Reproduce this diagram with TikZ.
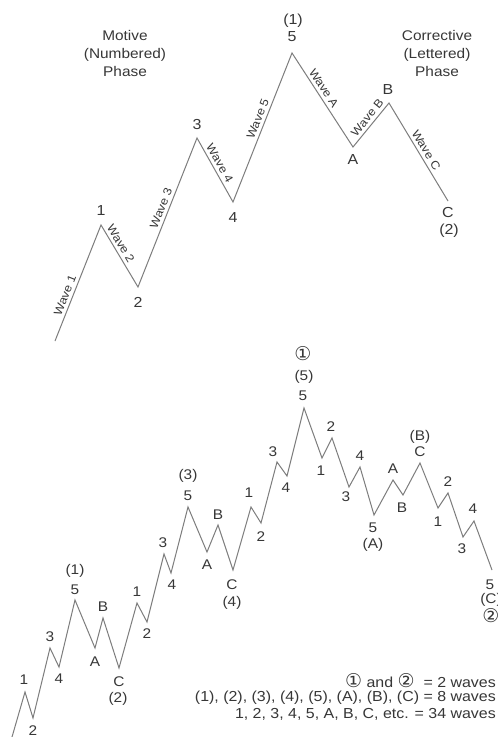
\documentclass[tikz,border=0pt]{standalone}
\usepackage{fontspec}
\setmainfont{Liberation Sans}[FakeStretch=1.1]
\newfontfamily\circfont{DejaVu Sans}
\definecolor{linegray}{RGB}{125,125,125}
\definecolor{textgray}{RGB}{55,55,55}
\tikzset{
  wave/.style={draw=linegray, line width=1pt, line join=miter},
  lbl/.style={text=textgray, font=\fontsize{14}{14}\selectfont, inner sep=0pt},
  toplbl/.style={lbl, font=\fontsize{14.5}{14.5}\selectfont},
  wlbl/.style={text=textgray, font=\fontsize{11.5}{11.5}\selectfont, sloped, above=2pt, inner sep=1pt},
  headtxt/.style={text=textgray, align=center, font=\fontsize{14}{18}\selectfont, inner sep=0pt},
  legtxt/.style={text=textgray, anchor=east, font=\fontsize{14.5}{14.5}\selectfont, inner sep=0pt},
  circ/.style={lbl, font=\circfont\fontsize{19}{19}\selectfont}
}
\newcommand{\circd}[1]{{\circfont\fontsize{19}{14.5}\selectfont #1}}
\begin{document}
\begin{tikzpicture}[x=1pt,y=-1pt]
\clip (0,0) rectangle (498,737);
\fill[white] (0,0) rectangle (498,737);

% ---------- top diagram ----------
\node[headtxt] (hmot) at (125,53) {Motive\\(Numbered)\\Phase};
\node[headtxt] (hcor) at (437,53) {Corrective\\(Lettered)\\Phase};

\coordinate (t0) at (55,341);
\coordinate (t1) at (101,225);
\coordinate (t2) at (138,287);
\coordinate (t3) at (197,138);
\coordinate (t4) at (233,202);
\coordinate (t5) at (292,53);
\coordinate (tA) at (353,147);
\coordinate (tB) at (389,103);
\coordinate (tC) at (448,201);

\draw[wave] (t0) -- node[wlbl,pos=0.37] (w1) {Wave 1}
  (t1) -- node[wlbl,pos=0.36] (w2) {Wave 2}
  (t2) -- node[wlbl,pos=0.51] (w3) {Wave 3}
  (t3) -- node[wlbl,pos=0.45] (w4) {Wave 4}
  (t4) -- node[wlbl,pos=0.54] (w5) {Wave 5}
  (t5) -- node[wlbl,pos=0.42] (wA) {Wave A}
  (tA) -- node[wlbl,pos=0.56] (wB) {Wave B}
  (tB) -- node[wlbl,pos=0.52] (wC) {Wave C}
  (tC);

\node[toplbl] (lt1) at (101,211) {1};
\node[toplbl] (lt2) at (138,302) {2};
\node[toplbl] (lt3) at (197,125) {3};
\node[toplbl] (lt4) at (233,218) {4};
\node[toplbl] (lt5p) at (293,21) {(1)};
\node[toplbl] (lt5) at (292,37) {5};
\node[toplbl] (ltA) at (353,160) {A};
\node[toplbl] (ltB) at (388,90) {B};
\node[toplbl] (ltC) at (448,213) {C};
\node[toplbl] (ltCp) at (449,231) {(2)};

% ---------- bottom diagram ----------
\coordinate (b0) at (9.7,745);
\coordinate (b1) at (25,692);
\coordinate (b2) at (33,718);
\coordinate (b3) at (50,648);
\coordinate (b4) at (59,667);
\coordinate (b5) at (75,600);
\coordinate (bA) at (95,648);
\coordinate (bB) at (103,618);
\coordinate (bC) at (119,668);
\coordinate (c1) at (137,603);
\coordinate (c2) at (147,622);
\coordinate (c3) at (164,554);
\coordinate (c4) at (171,573);
\coordinate (c5) at (188,507);
\coordinate (cA) at (207,552);
\coordinate (cB) at (218,525);
\coordinate (cC) at (233,570);
\coordinate (d1) at (251,507);
\coordinate (d2) at (261,523);
\coordinate (d3) at (277,462);
\coordinate (d4) at (287,476);
\coordinate (d5) at (304,408);
\coordinate (e1) at (322,458);
\coordinate (e2) at (332,438);
\coordinate (e3) at (349,487);
\coordinate (e4) at (360,467);
\coordinate (e5) at (374,515);
\coordinate (eA) at (393,480);
\coordinate (eB) at (403,495);
\coordinate (eC) at (420,463);
\coordinate (f1) at (438,508);
\coordinate (f2) at (448,493);
\coordinate (f3) at (463,537);
\coordinate (f4) at (474,521);
\coordinate (f5) at (492,570);

\draw[wave] (b0) -- (b1) -- (b2) -- (b3) -- (b4) -- (b5) -- (bA) -- (bB) -- (bC)
  -- (c1) -- (c2) -- (c3) -- (c4) -- (c5) -- (cA) -- (cB) -- (cC)
  -- (d1) -- (d2) -- (d3) -- (d4) -- (d5)
  -- (e1) -- (e2) -- (e3) -- (e4) -- (e5) -- (eA) -- (eB) -- (eC)
  -- (f1) -- (f2) -- (f3) -- (f4) -- (f5);

\node[lbl] (lb1) at (24,680) {1};
\node[lbl] (lb2) at (33,731) {2};
\node[lbl] (lb3) at (50,637) {3};
\node[lbl] (lb4) at (59,679) {4};
\node[lbl] (lb5) at (75,590) {5};
\node[lbl] (lb5p) at (75,571) {(1)};
\node[lbl] (lbA) at (95,662) {A};
\node[lbl] (lbB) at (103,607) {B};
\node[lbl] (lbC) at (119,682) {C};
\node[lbl] (lbCp) at (118,699) {(2)};

\node[lbl] (lc1) at (137,592) {1};
\node[lbl] (lc2) at (147,634) {2};
\node[lbl] (lc3) at (163,543) {3};
\node[lbl] (lc4) at (172,585) {4};
\node[lbl] (lc5) at (188,496) {5};
\node[lbl] (lc5p) at (188,476) {(3)};
\node[lbl] (lcA) at (207,565) {A};
\node[lbl] (lcB) at (218,515) {B};
\node[lbl] (lcC) at (232,585) {C};
\node[lbl] (lcCp) at (232,603) {(4)};

\node[lbl] (ld1) at (249,493) {1};
\node[lbl] (ld2) at (261,537) {2};
\node[lbl] (ld3) at (273,452) {3};
\node[lbl] (ld4) at (286,488) {4};
\node[lbl] (ld5) at (303,396) {5};
\node[lbl] (ld5p) at (304,377) {(5)};
\node[circ] (ld5c) at (303,354) {①};

\node[lbl] (le1) at (321,471) {1};
\node[lbl] (le2) at (331,427) {2};
\node[lbl] (le3) at (346,497) {3};
\node[lbl] (le4) at (360,456) {4};
\node[lbl] (le5) at (373,528) {5};
\node[lbl] (le5p) at (373,545) {(A)};
\node[lbl] (leA) at (393,469) {A};
\node[lbl] (leB) at (402,508) {B};
\node[lbl] (leC) at (420,452) {C};
\node[lbl] (leCp) at (420,437) {(B)};

\node[lbl] (lf1) at (438,522) {1};
\node[lbl] (lf2) at (448,482) {2};
\node[lbl] (lf3) at (462,549) {3};
\node[lbl] (lf4) at (473,509) {4};
\node[lbl] (lf5) at (490,585) {5};
\node[lbl] (lf5p) at (491,600) {(C)};
\node[circ] (lf5c) at (491,616) {②};

% ---------- legend ----------
\node[legtxt] (leg1) at (496,681) {\circd{①} and \circd{②}\ \ = 2 waves};
\node[legtxt] (leg2) at (496,698) {(1), (2), (3), (4), (5), (A), (B), (C) = 8 waves};
\node[legtxt] (leg3) at (496,714) {1, 2, 3, 4, 5, A, B, C, etc. = 34 waves};
\end{tikzpicture}
\end{document}
